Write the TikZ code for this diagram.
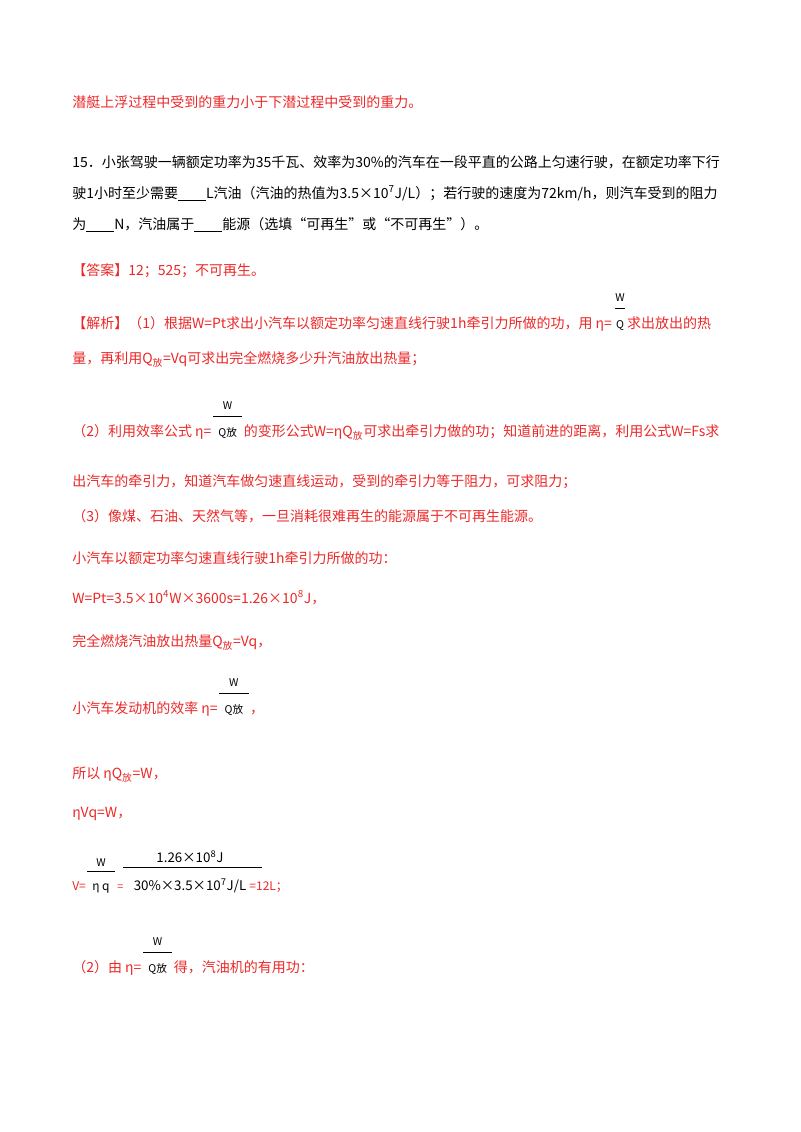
\documentclass[tikz,border=0pt]{standalone}
\usepackage{fontspec}
\setmainfont{Noto Sans CJK SC}
\begin{document}
\begin{tikzpicture}[x=0.75pt,y=-0.75pt]
\definecolor{ansred}{RGB}{235,40,40}
\tikzset{t/.style={anchor=base west,inner sep=0pt,font=\fontsize{10.5}{12}\selectfont},r/.style={t,text=ansred},
fr/.style={anchor=base,inner sep=0pt,font=\fontsize{8}{9}\selectfont,text=black}}
\useasboundingbox (0,0) rectangle (800,1132);
\node[r] (l1) at (72,107) {潜艇上浮过程中受到的重力小于下潜过程中受到的重力。};
\node[t] (l2) at (72,167) {15．小张驾驶一辆额定功率为35千瓦、效率为30\%的汽车在一段平直的公路上匀速行驶，在额定功率下行};
\node[t] (l3) at (72,198) {驶1小时至少需要\underline{\hspace{2em}}L汽油（汽油的热值为3.5×10\textsuperscript{7}J/L）；若行驶的速度为72km/h，则汽车受到的阻力};
\node[t] (l4) at (72,229) {为\underline{\hspace{2em}}N，汽油属于\underline{\hspace{2em}}能源（选填“可再生”或“不可再生”）。};
\node[r] (l5) at (72,275) {【答案】12；525；不可再生。};
% line 6
\node[r] (l6) at (72,328) {【解析】（1）根据W=Pt求出小汽车以额定功率匀速直线行驶1h牵引力所做的功，用 η=};
\node[fr] (f1b) at ([xshift=6pt]l6.base east) {Q};
\node[fr] (f1) at ([yshift=20pt]f1b.base) {W};
\draw ([xshift=-4pt,yshift=15pt]f1b.base) -- ([xshift=4pt,yshift=15pt]f1b.base);
\node[r] (l6b) at ([xshift=11pt]l6.base east) {求出放出的热};
\node[r] (l7) at (72,363) {量，再利用Q\textsubscript{放}=Vq可求出完全燃烧多少升汽油放出热量；};
% line 8
\node[r] (l8) at (72,436) {（2）利用效率公式 η=};
\node[fr] (f2b) at ([xshift=12pt]l8.base east) {Q放};
\node[fr] (f2) at ([yshift=20pt]f2b.base) {W};
\draw ([xshift=-11pt,yshift=15pt]f2b.base) -- ([xshift=11pt,yshift=15pt]f2b.base);
\node[r] (l8b) at ([xshift=24pt]l8.base east) {的变形公式W=ηQ\textsubscript{放}可求出牵引力做的功；知道前进的距离，利用公式W=Fs求};
\node[r] (l9) at (72,486) {出汽车的牵引力，知道汽车做匀速直线运动，受到的牵引力等于阻力，可求阻力；};
\node[r] (l10) at (72,521) {（3）像煤、石油、天然气等，一旦消耗很难再生的能源属于不可再生能源。};
\node[r] (l11) at (72,563) {小汽车以额定功率匀速直线行驶1h牵引力所做的功：};
\node[r] (l12) at (72,603) {W=Pt=3.5×10\textsuperscript{4}W×3600s=1.26×10\textsuperscript{8}J，};
\node[r] (l13) at (72,646) {完全燃烧汽油放出热量Q\textsubscript{放}=Vq，};
% line 14
\node[r] (l14) at (72,713) {小汽车发动机的效率 η=};
\node[fr] (f3b) at ([xshift=12pt]l14.base east) {Q放};
\node[fr] (f3) at ([yshift=20pt]f3b.base) {W};
\draw ([xshift=-11pt,yshift=15pt]f3b.base) -- ([xshift=11pt,yshift=15pt]f3b.base);
\node[r] (l14b) at ([xshift=24pt]l14.base east) {，};
\node[r] (l15) at (72,778) {所以 ηQ\textsubscript{放}=W，};
\node[r] (l16) at (72,817) {ηVq=W，};
% V formula
\node[r,font=\fontsize{9}{10}\selectfont] (l17) at (72,890) {V=};
\node[fr,font=\fontsize{9}{10}\selectfont] (f4b) at (101,890) {η q};
\node[fr] (f4) at (101,866) {W};
\draw (87,871) -- (115,871);
\node[r,font=\fontsize{8}{9}\selectfont] (eq) at (117,890) {=};
\node[fr,font=\fontsize{10}{11}\selectfont] (f5b) at (190,890) {30\%×3.5×10\textsuperscript{7}J/L};
\node[fr,font=\fontsize{10}{11}\selectfont] (f5) at (190,862) {1.26×10\textsuperscript{8}J};
\draw (123,867) -- (262,867);
\node[r,font=\fontsize{9}{10}\selectfont] (res) at ([xshift=2pt]f5b.base east) {=12L；};
% line 18
\node[r] (l18) at (72,972) {（2）由 η=};
\node[fr] (f6b) at ([xshift=12pt]l18.base east) {Q放};
\node[fr] (f6) at ([yshift=20pt]f6b.base) {W};
\draw ([xshift=-11pt,yshift=15pt]f6b.base) -- ([xshift=11pt,yshift=15pt]f6b.base);
\node[r] (l18b) at ([xshift=24pt]l18.base east) {得，汽油机的有用功：};
\end{tikzpicture}
\end{document}
